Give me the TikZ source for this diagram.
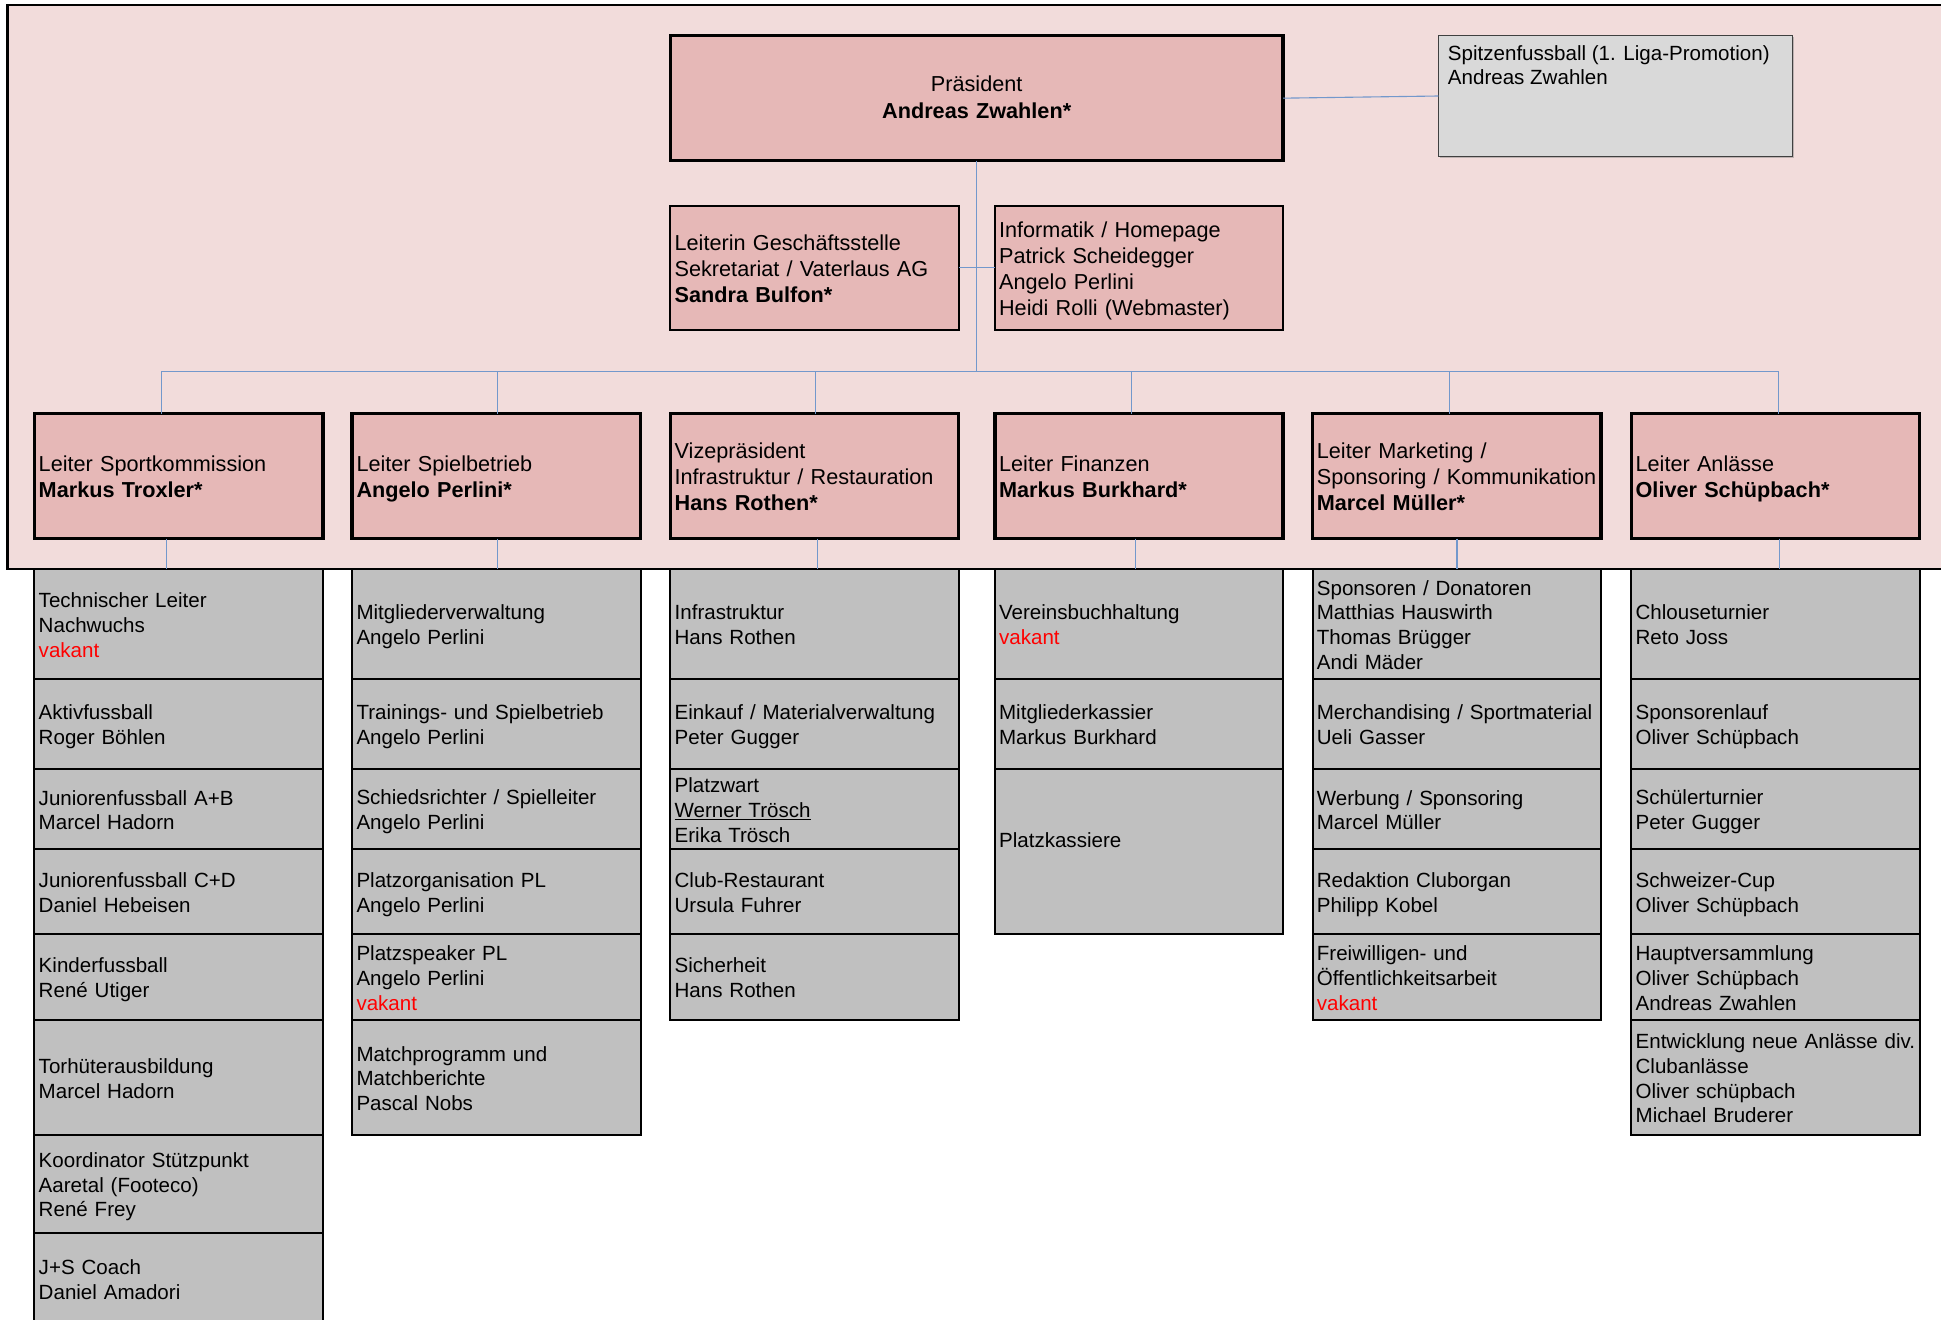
\documentclass[tikz,border=0pt]{standalone}
\usepackage{fontspec}
\setmainfont{Liberation Sans}
\usetikzlibrary{shadows}
\definecolor{framepink}{HTML}{F2DCDB}
\definecolor{boxpink}{HTML}{E6B8B7}
\definecolor{spitzgray}{HTML}{D9D9D9}
\definecolor{colgray}{HTML}{C0C0C0}
\definecolor{connblue}{HTML}{7398CC}
\definecolor{vakred}{HTML}{FF0000}
\newcommand{\vakantred}{\textcolor{vakred}{vakant}}
\begin{document}
\begin{tikzpicture}[x=1pt,y=-1pt,
  bigfont/.style={font=\fontsize{17.5}{21}\selectfont,
    execute at begin node={\rule{0pt}{17.5pt}}, execute at end node={\rule[-3.5pt]{0pt}{3.5pt}}},
  smallfont/.style={font=\fontsize{16.6}{20}\selectfont,
    execute at begin node={\rule{0pt}{16.8pt}}, execute at end node={\rule[-3.2pt]{0pt}{3.2pt}}},
  pinkbox/.style={draw=black, fill=boxpink, anchor=north west, inner xsep=3.5pt, inner ysep=0pt,
    outer sep=0pt, align=left, bigfont},
  lvtwo/.style={pinkbox, line width=2.8pt, minimum width=233pt, text width=226pt, minimum height=101pt},
  graybox/.style={draw=black, line width=1.6pt, fill=colgray, anchor=north west, inner xsep=3.5pt,
    inner ysep=0pt, outer sep=0pt, minimum width=233pt, text width=226pt, align=left, smallfont},
  conn/.style={draw=connblue, line width=0.9pt}
]
\useasboundingbox (0,0) rectangle (1568,1066);
\clip (0,0) rectangle (1568,1066);

% outer frame
\path[fill=framepink] (6.1,4) rectangle (1600,459.7);

% connector coordinates
\coordinate (d1) at (130.5,299.8);
\coordinate (d2) at (402,299.8);
\coordinate (d3) at (659,299.8);
\coordinate (d4) at (914,299.8);
\coordinate (d5) at (1171,299.8);
\coordinate (d6) at (1436.5,299.8);
\coordinate (e1) at (134.5,0);
\coordinate (e2) at (402,0);
\coordinate (e3) at (660.5,0);
\coordinate (e4) at (917,0);
\coordinate (e5) at (1177,0);
\coordinate (e6) at (1437.5,0);

% top boxes
\node[draw=black, fill=boxpink, anchor=north west, inner xsep=3.5pt, inner ysep=0pt, outer sep=0pt, line width=2.8pt,
  minimum width=495pt, text width=488pt, minimum height=101pt, align=center, font=\fontsize{17.5}{22}\selectfont,
  execute at begin node={\rule{0pt}{17.5pt}}, execute at end node={\rule[-6pt]{0pt}{6pt}}] (pres) at (541.5,28.8)
  {Präsident\\\textbf{Andreas Zwahlen*}};
\node[draw=black!75, line width=1pt, fill=spitzgray, anchor=north west, outer sep=0pt, inner sep=0pt,
  minimum width=286.3pt, minimum height=98.3pt,
  drop shadow={shadow xshift=1.2pt, shadow yshift=-1.2pt, opacity=0.45}] (spitz) at (1162,28.4) {};
\node[anchor=north west, inner sep=0pt, align=left, font=\fontsize{16.6}{20}\selectfont] (spitztxt)
  at ([xshift=7.5pt,yshift=-8pt]spitz.north west)
  {Spitzenfussball (1. Liga-Promotion)\\Andreas Zwahlen};
\node[pinkbox, line width=1.5pt, minimum width=233pt, text width=226pt, minimum height=100.2pt] (leit) at (541.5,166.3)
  {Leiterin Geschäftsstelle\\Sekretariat / Vaterlaus AG\\\textbf{Sandra Bulfon*}};
\node[pinkbox, line width=1.5pt, minimum width=233pt, text width=226pt, minimum height=100.2pt] (info) at (803.6,166.3)
  {Informatik / Homepage\\Patrick Scheidegger\\Angelo Perlini\\Heidi Rolli (Webmaster)};

% level two
\node[lvtwo] (la) at (27.8,334.2) {Leiter Sportkommission\\\textbf{Markus Troxler*}};
\node[lvtwo] (lb) at (284.5,334.2) {Leiter Spielbetrieb\\\textbf{Angelo Perlini*}};
\node[lvtwo] (lc) at (541.5,334.2) {Vizepräsident\\Infrastruktur / Restauration\\\textbf{Hans Rothen*}};
\node[lvtwo] (ld) at (803.6,334.2) {Leiter Finanzen\\\textbf{Markus Burkhard*}};
\node[lvtwo] (le) at (1060.3,334.2) {Leiter Marketing /\\\mbox{Sponsoring / Kommunikation}\\\textbf{Marcel Müller*}};
\node[lvtwo] (lf) at (1317.8,334.2) {Leiter Anlässe\\\textbf{Oliver Schüpbach*}};

% column 1
\node[graybox, minimum height=88.6pt] (a1) at (27.8,459.7) {Technischer Leiter\\Nachwuchs\\\vakantred};
\node[graybox, minimum height=72.9pt] (a2) at (a1.south west) {Aktivfussball\\Roger Böhlen};
\node[graybox, minimum height=64.6pt] (a3) at (a2.south west) {Juniorenfussball A+B\\Marcel Hadorn};
\node[graybox, minimum height=68.6pt] (a4) at (a3.south west) {Juniorenfussball C+D\\Daniel Hebeisen};
\node[graybox, minimum height=69.5pt] (a5) at (a4.south west) {Kinderfussball\\René Utiger};
\node[graybox, minimum height=92.9pt] (a6) at (a5.south west) {Torhüterausbildung\\Marcel Hadorn};
\node[graybox, minimum height=79.1pt] (a7) at (a6.south west) {Koordinator Stützpunkt\\Aaretal (Footeco)\\René Frey};
\node[graybox, minimum height=74.1pt] (a8) at (a7.south west) {J+S Coach\\Daniel Amadori};

% column 2
\node[graybox, minimum height=88.6pt] (b1) at (284.5,459.7) {Mitgliederverwaltung\\Angelo Perlini};
\node[graybox, minimum height=72.9pt] (b2) at (b1.south west) {Trainings- und Spielbetrieb\\Angelo Perlini};
\node[graybox, minimum height=64.6pt] (b3) at (b2.south west) {Schiedsrichter / Spielleiter\\Angelo Perlini};
\node[graybox, minimum height=68.6pt] (b4) at (b3.south west) {Platzorganisation PL\\Angelo Perlini};
\node[graybox, minimum height=69.5pt] (b5) at (b4.south west) {Platzspeaker PL\\Angelo Perlini\\\vakantred};
\node[graybox, minimum height=92.9pt] (b6) at (b5.south west) {Matchprogramm und\\Matchberichte\\Pascal Nobs};

% column 3
\node[graybox, minimum height=88.6pt] (c1) at (541.5,459.7) {Infrastruktur\\Hans Rothen};
\node[graybox, minimum height=72.9pt] (c2) at (c1.south west) {\mbox{Einkauf / Materialverwaltung}\\Peter Gugger};
\node[graybox, minimum height=64.6pt] (c3) at (c2.south west) {Platzwart\\\underline{Werner Trösch}\\Erika Trösch};
\node[graybox, minimum height=68.6pt] (c4) at (c3.south west) {Club-Restaurant\\Ursula Fuhrer};
\node[graybox, minimum height=69.5pt] (c5) at (c4.south west) {Sicherheit\\Hans Rothen};

% column 4
\node[graybox, minimum height=88.6pt] (f1) at (803.6,459.7) {Vereinsbuchhaltung\\\vakantred};
\node[graybox, minimum height=72.9pt] (f2) at (f1.south west) {Mitgliederkassier\\Markus Burkhard};
\node[graybox, minimum height=133.2pt] (f3) at (f2.south west) {Platzkassiere\\\mbox{}};

% column 5
\node[graybox, minimum height=88.6pt] (m1) at (1060.3,459.7) {Sponsoren / Donatoren\\Matthias Hauswirth\\Thomas Brügger\\Andi Mäder};
\node[graybox, minimum height=72.9pt] (m2) at (m1.south west) {\mbox{Merchandising / Sportmaterial}\\Ueli Gasser};
\node[graybox, minimum height=64.6pt] (m3) at (m2.south west) {Werbung / Sponsoring\\Marcel Müller};
\node[graybox, minimum height=68.6pt] (m4) at (m3.south west) {Redaktion Cluborgan\\Philipp Kobel};
\node[graybox, minimum height=69.5pt] (m5) at (m4.south west) {Freiwilligen- und\\Öffentlichkeitsarbeit\\\vakantred};

% column 6
\node[graybox, minimum height=88.6pt] (o1) at (1317.8,459.7) {Chlouseturnier\\Reto Joss};
\node[graybox, minimum height=72.9pt] (o2) at (o1.south west) {Sponsorenlauf\\Oliver Schüpbach};
\node[graybox, minimum height=64.6pt] (o3) at (o2.south west) {Schülerturnier\\Peter Gugger};
\node[graybox, minimum height=68.6pt] (o4) at (o3.south west) {Schweizer-Cup\\Oliver Schüpbach};
\node[graybox, minimum height=69.5pt] (o5) at (o4.south west) {Hauptversammlung\\Oliver Schüpbach\\Andreas Zwahlen};
\node[graybox, minimum height=92.9pt] (o6) at (o5.south west) {\mbox{Entwicklung neue Anlässe div.}\\Clubanlässe\\Oliver schüpbach\\Michael Bruderer};

% outer frame border
\draw[black, line width=1.8pt] (1600,4) -- (6.1,4) -- (6.1,459.7) -- (1600,459.7);

% connectors
\draw[conn] (pres.east) -- (spitz.west);
\draw[conn] (leit.east) -- (info.west);
\draw[conn] (pres.south) -- (pres.south |- d1);
\draw[conn] (d1) -- (d6);
\draw[conn] (d1) -- (d1 |- la.north);
\draw[conn] (d2) -- (d2 |- lb.north);
\draw[conn] (d3) -- (d3 |- lc.north);
\draw[conn] (d4) -- (d4 |- ld.north);
\draw[conn] (d5) -- (d5 |- le.north);
\draw[conn] (d6) -- (d6 |- lf.north);
\draw[conn] (la.south -| e1) -- (a1.north -| e1);
\draw[conn] (lb.south -| e2) -- (b1.north -| e2);
\draw[conn] (lc.south -| e3) -- (c1.north -| e3);
\draw[conn] (ld.south -| e4) -- (f1.north -| e4);
\draw[conn] (le.south -| e5) -- (m1.north -| e5);
\draw[conn] (lf.south -| e6) -- (o1.north -| e6);
\end{tikzpicture}
\end{document}
